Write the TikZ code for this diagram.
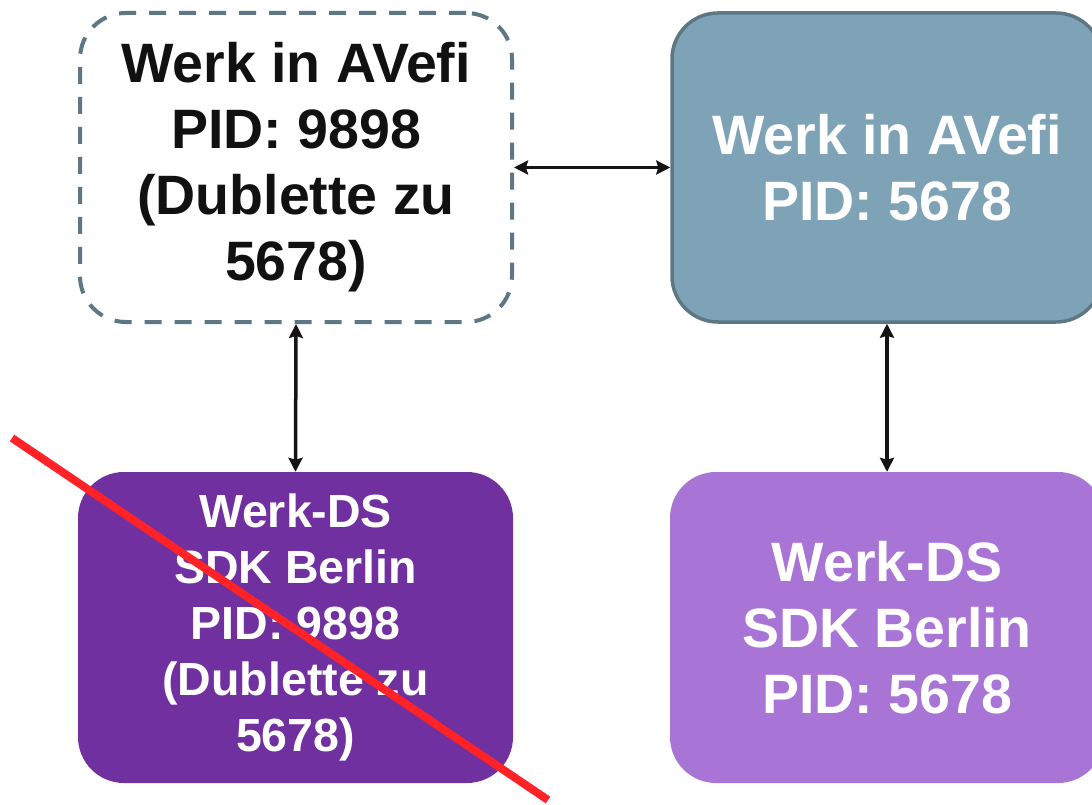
\documentclass[tikz,border=0pt]{standalone}
\usepackage{fontspec}
\setmainfont{Liberation Sans}
\usetikzlibrary{arrows.meta}
\definecolor{slateedge}{HTML}{5E7784}
\definecolor{slatefill}{HTML}{7FA3B6}
\definecolor{darkpurple}{HTML}{7030A0}
\definecolor{lightpurple}{HTML}{A874D6}
\definecolor{crossred}{HTML}{FF2226}
\definecolor{textblack}{HTML}{111111}
\tikzset{
  box/.style={rectangle, rounded corners=46pt, align=center, inner sep=0pt, font=\bfseries},
  bigtext/.style={font=\fontsize{55.5}{66}\selectfont\bfseries},
  smalltext/.style={font=\fontsize{46.5}{56}\selectfont\bfseries},
  link/.style={line width=3.5pt, black!92, {Stealth[length=14pt,width=14pt,inset=2pt]}-{Stealth[length=14pt,width=14pt,inset=2pt]}},
  strike/.style={line width=8pt, crossred}
}
\begin{document}
\begin{tikzpicture}[x=1pt,y=-1pt]
\useasboundingbox (0,0) rectangle (1092,805);
\fill[white] (0,0) rectangle (1092,805);
\node[box, bigtext, draw=slateedge, line width=4pt, dash pattern=on 17pt off 13pt, text=textblack,
      minimum width=432pt, minimum height=309pt] (tl) at (296,167.5)
  {Werk in AVefi\\PID: 9898\\(Dublette zu\\5678)};
\node[box, bigtext, draw=slateedge, fill=slatefill, line width=3.5pt, text=white,
      minimum width=430pt, minimum height=309pt] (tr) at (887,167.5)
  {Werk in AVefi\\PID: 5678};
\node[box, smalltext, fill=darkpurple, text=white,
      minimum width=435pt, minimum height=311pt] (bl) at (295.5,627.5)
  {Werk-DS\\SDK Berlin\\PID: 9898\\(Dublette zu\\5678)};
\node[box, bigtext, fill=lightpurple, text=white,
      minimum width=434pt, minimum height=311pt] (br) at (887,627.5)
  {Werk-DS\\SDK Berlin\\PID: 5678};
\draw[link] (tl.east) -- (tr.west);
\draw[link] (tl.south) -- (bl.north);
\draw[link] (tr.south) -- (br.north);
\coordinate (s1) at (12,438);
\coordinate (s2) at (548,800);
\draw[strike] (s1) -- (s2);
\end{tikzpicture}
\end{document}
